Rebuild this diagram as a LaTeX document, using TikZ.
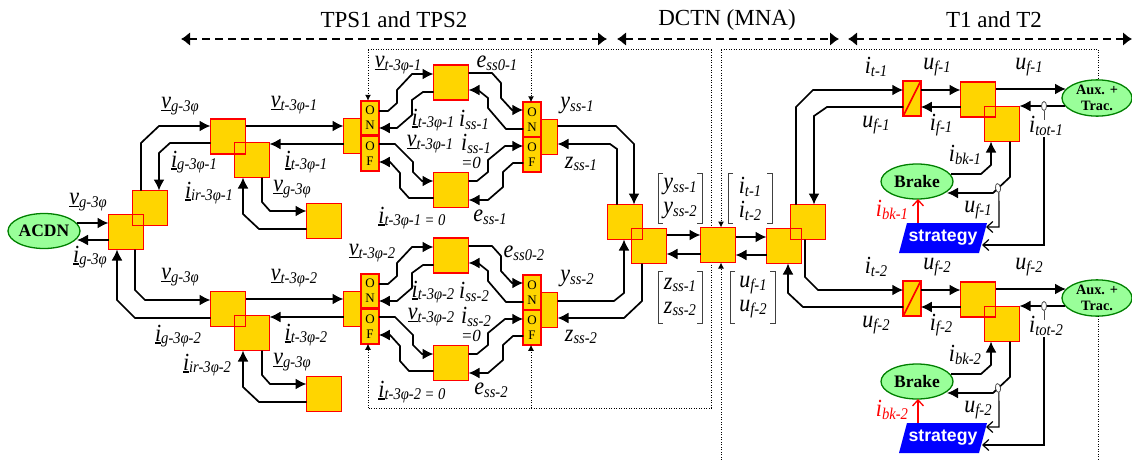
\documentclass[tikz,border=0pt]{standalone}
\usepackage{fontspec}
\setmainfont{Liberation Serif}
\setsansfont{Liberation Sans}
\usetikzlibrary{arrows.meta,shapes.geometric}
\definecolor{boxfill}{HTML}{FFD500}
\definecolor{ellfill}{HTML}{99FF99}
\definecolor{ellline}{HTML}{008000}
\newcommand{\sbs}[1]{\raisebox{-2.5pt}{\fontsize{14.6}{14.6}\selectfont #1}}
\newcommand{\ulet}[1]{\setbox0=\hbox{#1}\rlap{\rule[-2.6pt]{\wd0}{1.5pt}}\box0}
\newcommand{\ulab}[2]{\scalebox{1}[1.12]{\ulet{#1}\sbs{#2}}}
\newcommand{\plab}[2]{\scalebox{1}[1.12]{#1\sbs{#2}}}
\tikzset{
  x=1pt,y=-1pt,
  cell/.style={draw=red,fill=boxfill,line width=1.7pt,minimum size=35pt,inner sep=0pt,outer sep=0pt},
  swit/.style={draw=red,fill=boxfill,line width=1.7pt,minimum width=17.5pt,minimum height=34.5pt,inner sep=0pt,outer sep=0pt,align=center,font=\fontsize{13}{15}\selectfont},
  chopper/.style={draw=red,fill=boxfill,line width=1.7pt,minimum width=17.5pt,minimum height=35pt,inner sep=0pt,outer sep=0pt},
  outl/.style={draw=red,line width=1.7pt},
  ell/.style={ellipse,draw=ellline,fill=ellfill,line width=1.3pt,inner sep=0pt,outer sep=0pt,align=center,font=\bfseries},
  con/.style={line width=1.7pt,-{Latex[length=11pt,width=11pt]}},
  thinl/.style={line width=1pt,black!70},
  barb/.style={line width=1.2pt,-{Straight Barb[length=6pt,width=11pt]}},
  dots/.style={line width=1pt,dash pattern=on 1pt off 1.5pt},
  dota/.style={dots,-{Latex[length=6pt,width=6pt]}},
  head/.style={line width=2.5pt,dash pattern=on 8pt off 5pt,{Latex[length=9pt,width=14pt]}-{Latex[length=9pt,width=14pt]}},
  lab/.style={inner sep=0pt,font=\fontsize{22}{22}\selectfont\itshape},
  brk/.style={line width=.7pt,black!75},
}
\begin{document}
\begin{tikzpicture}
\useasboundingbox (0,0) rectangle (1132,460);
% headings
\node[inner sep=0pt,font=\fontsize{23}{23}\selectfont] (h1) at (394,20) {TPS1 and TPS2};
\node[inner sep=0pt,font=\fontsize{23}{23}\selectfont] (h2) at (727,20) {DCTN (MNA)};
\node[inner sep=0pt,font=\fontsize{23}{23}\selectfont] (h3) at (994,20) {T1 and T2};
\coordinate (a1) at (181,39); \coordinate (a2) at (607,39);
\coordinate (a3) at (617,39); \coordinate (a4) at (839,39);
\coordinate (a5) at (848,39); \coordinate (a6) at (1132,39);
\draw[head] (a1) -- (a2);
\draw[head] (a3) -- (a4);
\draw[head] (a5) -- (a6);
% dotted frame behind the blocks
\coordinate (f1) at (368,50); \coordinate (f2) at (711,50); \coordinate (f3) at (711,408); \coordinate (f4) at (368,408);
\coordinate (f5) at (721,50); \coordinate (f6) at (1098,50); \coordinate (f7) at (721,460); \coordinate (f8) at (1098,460);
\coordinate (f9) at (531,50); \coordinate (f10) at (531,408);
\draw[dots] (f1) -- (f2) -- (f3) -- (f4);
% left blocks
\node[ell,minimum width=72pt,minimum height=35pt,font=\fontsize{17.5}{17.5}\selectfont\bfseries] (acdn) at (44,231) {ACDN};
\node[cell] (acU) at (150,208) {};
\node[cell] (acL) at (126,232) {};
\draw[outl] (acU.south west) rectangle (acU.north east);
\foreach \n/\y in {1/136.5,2/309}{
  \node[cell] (g\n) at (228,\y) {};
}
\node[cell] (r1) at (252,160) {};
\node[cell] (r2) at (252,333) {};
\draw[outl] (g1.south west) rectangle (g1.north east);
\draw[outl] (g2.south west) rectangle (g2.north east);
\node[cell] (q1) at (324,221) {};
\node[cell] (q2) at (324,394) {};
% converter blocks
\foreach \n/\d in {1/0,2/173}{
\begin{scope}[shift={(0,\d)}]
  \node[cell] (c\n) at (361,136) {};
  \node[swit] (on\n) at (370,118) {O\\N};
  \node[swit] (of\n) at (370,153.5) {O\\F};
  \node[cell] (t\n) at (451,82.5) {};
  \node[cell] (b\n) at (451,190) {};
  \node[cell] (d\n) at (540,137) {};
  \node[swit] (ond\n) at (532,119.5) {O\\N};
  \node[swit] (ofd\n) at (532,154.5) {O\\F};
  \draw[con] (on\n.east |- 0,111) -- (388,111) -- (397,103) -- (397,90) -- (412,74) -- (t\n.west |- 0,74);
  \draw[con] (t\n.west |- 0,92) -- (423,92) -- (412,100) -- (412,115) -- (397,128) -- (on\n.east |- 0,128);
  \draw[con] (of\n.east |- 0,144) -- (395,144) -- (413,162) -- (413,172) -- (422,181) -- (b\n.west |- 0,181);
  \draw[con] (b\n.west |- 0,198) -- (409,198) -- (400,188) -- (400,173) -- (390,162) -- (of\n.east |- 0,162);
  \draw[con] (t\n.east |- 0,73) -- (492,73) -- (501,83) -- (501,98) -- (512,110) -- (ond\n.west |- 0,110);
  \draw[con] (ond\n.west |- 0,129) -- (506,129) -- (488,108) -- (488,98) -- (478,90) -- (t\n.east |- 0,90);
  \draw[con] (b\n.east |- 0,181) -- (477,181) -- (488,172) -- (488,160) -- (505,146) -- (ofd\n.west |- 0,146);
  \draw[con] (ofd\n.west |- 0,163) -- (513,163) -- (503,172) -- (503,187) -- (488,200) -- (b\n.east |- 0,200);
\end{scope}
}
% DC network
\node[cell] (mu) at (625,222) {};
\node[cell] (ml) at (649,246) {};
\draw[outl] (mu.south west) rectangle (mu.north east);
\node[cell] (dc) at (718,245) {};
\node[cell] (nl) at (784,246) {};
\node[cell] (nu) at (808,222) {};
\draw[outl] (nl.south west) rectangle (nl.north east);
% dotted arrows
\draw[dota] (f1) -- (on1.north -| f1);
\draw[dota] (f9) -- (ond1.north -| f9);
\draw[dota] (f4) -- (of2.south -| f4);
\draw[dota] (f10) -- (ofd2.south -| f10);
\draw[dota] (f5) -- (dc.north -| f5);
\draw[dota] (f7) -- (dc.south -| f7);
\draw[dots] (f5) -- (f6);
% left connectors
\draw[con] (acdn.east |- 0,223) ++(-3,0) -- (acL.west |- 0,223);
\draw[con] (acL.west |- 0,240) -- (77,240);
\draw[con] (acU.north -| 141,0) -- (141,143) -- (159,126) -- (g1.west |- 0,126);
\draw[con] (g1.west |- 0,143) -- (170,143) -- (159,153) -- (acU.north -| 159,0);
\draw[con] (acL.south -| 135,0) -- (135,290) -- (145,300) -- (g2.west |- 0,300);
\draw[con] (g2.west |- 0,318) -- (135,318) -- (117,300) -- (acL.south -| 117,0);
\foreach \n/\d in {1/0,2/173}{
\begin{scope}[shift={(0,\d)}]
  \draw[con] (g\n.east |- 0,126) -- (c\n.west |- 0,126);
  \draw[con] (c\n.west |- 0,144) -- (r\n.east |- 0,144);
  \draw[con] (r\n.south -| 262,0) -- (262,202) -- (270,211) -- (q\n.west |- 0,211);
  \draw[con] (q\n.west |- 0,229) -- (259,229) -- (243,214) -- (r\n.south -| 243,0);
\end{scope}
}
% merge connectors
\draw[con] (d1.east |- 0,126) -- (616,126) -- (634,144) -- (mu.north -| 634,0);
\draw[con] (mu.north -| 617,0) -- (617,149) -- (610,144) -- (d1.east |- 0,144);
\draw[con] (d2.east |- 0,301) -- (614,301) -- (624,293) -- (mu.south -| 624,0);
\draw[con] (ml.south -| 642,0) -- (642,301) -- (624,318) -- (d2.east |- 0,318);
\draw[con] (ml.east |- 0,235) -- (dc.west |- 0,235);
\draw[con] (dc.west |- 0,254) -- (ml.east |- 0,254);
\draw[con] (dc.east |- 0,237) -- (nl.west |- 0,237);
\draw[con] (nl.west |- 0,255) -- (dc.east |- 0,255);
% traction units
\foreach \n/\d/\yy in {1/0/1,2/200/2}{
\begin{scope}[shift={(0,\d)}]
  \node[chopper] (chop\n) at (912,98.5) {};
  \draw[outl] (chop\n.south west) -- (chop\n.north east);
  \node[cell] (fa\n) at (978,99.5) {};
  \node[cell] (fb\n) at (1002,124) {};
  \draw[outl] (fa\n.south west) rectangle (fa\n.north east);
  \node[ell,minimum width=70pt,minimum height=35pt,font=\fontsize{14.3}{16}\selectfont\bfseries] (aux\n) at (1097,98) {Aux. +\\Trac.};
  \node[ell,minimum width=72pt,minimum height=35pt,font=\fontsize{17.5}{17.5}\selectfont\bfseries] (brake\n) at (917,181.5) {Brake};
  \coordinate (s1\n) at (907,223); \coordinate (s2\n) at (987,223); \coordinate (s3\n) at (979,253); \coordinate (s4\n) at (899,253);
  \fill[blue] (s1\n) -- (s2\n) -- (s3\n) -- (s4\n) -- cycle;
  \node[inner sep=0pt,text=white,font=\fontsize{17.7}{17.7}\selectfont\sffamily\bfseries] (strat\n) at (943,238) {strategy};
  \coordinate (sa\n) at (986,227); \coordinate (sb\n) at (982,245);
  \draw[con] (chop\n.east |- 0,90) -- (fa\n.west |- 0,90);
  \draw[con] (fa\n.west |- 0,107) -- (chop\n.east |- 0,107);
  \draw[con] (fa\n.east |- 0,89) -- (1066,89);
  \draw[con] (1065,106) -- (fb\n.east |- 0,106);
  \node[draw=black!70,fill=white,ellipse,line width=.8pt,minimum width=5pt,minimum height=9pt,inner sep=0pt] (so\n) at (1044,106) {};
  \draw[thinl] (so\n.south) -- (1044,120);
  \draw[barb] (1044,137) -- (1044,245) -- (sb\n);
  \draw[con] (brake\n.east |- 0,174) ++(-2,0) -- (981,174) -- (991,165) -- (fb\n.south -| 991,0);
  \draw[con] (fb\n.south -| 1010,0) -- (1010,177) -- (993,193) -- (947,193);
  \node[draw=black!70,fill=white,ellipse,rotate=10,line width=.8pt,minimum width=5pt,minimum height=9pt,inner sep=0pt] (st\n) at (998,188) {};
  \draw[barb] (st\n.south) -- (999,227) -- (sa\n);
  \draw[red,line width=1.3pt,-{Straight Barb[length=6pt,width=11pt]}] (918,223) -- (brake\n.south -| 918,0);
  \node[lab] (it\n) at (876,67) {\plab{i}{t-\n}};
  \node[lab] (uf\n) at (937,67) {\plab{u}{f-\n}};
  \node[lab] (uh\n) at (1029,67) {\plab{u}{f-\n}};
  \node[lab] (ul\n) at (876,125) {\plab{u}{f-\n}};
  \node[lab] (if\n) at (941,125) {\plab{i}{f-\n}};
  \node[lab] (tot\n) at (1046,126) {\plab{i}{tot-\n}};
  \node[lab] (bk\n) at (965,155) {\plab{i}{bk-\n}};
  \node[lab,text=red] (bkr\n) at (892,210) {\plab{i}{bk-\n}};
  \node[lab] (ub\n) at (978,210) {\plab{u}{f-\n}};
\end{scope}
}
\draw[dots] (f6) -- (aux1.north -| f6);
\draw[dots] (aux2.south -| f8) -- (f8);
\draw[con] (nu.north -| 796,0) -- (796,107) -- (813,90) -- (chop1.west |- 0,90);
\draw[con] (chop1.west |- 0,107) -- (827,107) -- (814,116) -- (nu.north -| 814,0);
\draw[con] (nu.south -| 805,0) -- (805,277) -- (818,290) -- (chop2.west |- 0,290);
\draw[con] (chop2.west |- 0,307) -- (803,307) -- (788,293) -- (nl.south -| 788,0);
% brackets
\foreach \xa/\xb/\ya/\yb in {658/702/173/223,728/772/173/223,658/702/271/323,730/775/271/323}{
  \draw[brk] (\xa+5,\ya) -- (\xa,\ya) -- (\xa,\yb) -- (\xa+5,\yb);
  \draw[brk] (\xb-5,\ya) -- (\xb,\ya) -- (\xb,\yb) -- (\xb-5,\yb);
}
\node[lab] (my1) at (680,187) {\plab{y}{ss-1}};
\node[lab] (my2) at (680,211) {\plab{y}{ss-2}};
\node[lab] (mi1) at (750,187) {\plab{i}{t-1}};
\node[lab] (mi2) at (750,211) {\plab{i}{t-2}};
\node[lab] (mz1) at (680,285) {\plab{z}{ss-1}};
\node[lab] (mz2) at (680,309) {\plab{z}{ss-2}};
\node[lab] (mu1) at (753,285) {\plab{u}{f-1}};
\node[lab] (mu2) at (753,309) {\plab{u}{f-2}};
% left labels
\node[lab] (l1) at (88,202) {\ulab{v}{g-3φ}};
\node[lab] (l2) at (90,257) {\ulab{i}{g-3φ}};
\node[lab] (l3) at (180,106) {\ulab{v}{g-3φ}};
\node[lab] (l4) at (294,105) {\ulab{v}{t-3φ-1}};
\node[lab] (l5) at (194,162) {\ulab{i}{g-3φ-1}};
\node[lab] (l6) at (306,162) {\ulab{i}{t-3φ-1}};
\node[lab] (l7) at (209,193) {\ulab{i}{ir-3φ-1}};
\node[lab] (l8) at (292,189) {\ulab{v}{g-3φ}};
\node[lab] (l9) at (180,277) {\ulab{v}{g-3φ}};
\node[lab] (l10) at (294,278) {\ulab{v}{t-3φ-2}};
\node[lab] (l11) at (178,336) {\ulab{i}{g-3φ-2}};
\node[lab] (l12) at (306,335) {\ulab{i}{t-3φ-2}};
\node[lab] (l13) at (207,365) {\ulab{i}{ir-3φ-2}};
\node[lab] (l14) at (292,362) {\ulab{v}{g-3φ}};
% converter labels
\node[lab] (p1) at (398,65) {\ulab{v}{t-3φ-1}};
\node[lab] (p2) at (497,63) {\plab{e}{ss0-1}};
\node[lab] (p3) at (433,120) {\ulab{i}{t-3φ-1}};
\node[lab] (p4) at (474,120) {\plab{i}{ss-1}};
\node[lab] (p5) at (430,144) {\ulab{v}{t-3φ-1}};
\node[lab] (p6) at (476,144) {\plab{i}{ss-1}};
\node[lab,font=\fontsize{17}{17}\selectfont\itshape] (p7) at (471,163) {=0};
\node[lab] (p8) at (412,218) {\ulab{i}{t-3φ-1 = 0}};
\node[lab] (p9) at (490,217) {\plab{e}{ss-1}};
\node[lab] (p10) at (577,106) {\plab{y}{ss-1}};
\node[lab] (p11) at (581,164) {\plab{z}{ss-1}};
\node[lab] (k1) at (372,253) {\ulab{v}{t-3φ-2}};
\node[lab] (k2) at (524,253) {\plab{e}{ss0-2}};
\node[lab] (k3) at (433,292) {\ulab{i}{t-3φ-2}};
\node[lab] (k4) at (474,292) {\plab{i}{ss-2}};
\node[lab] (k5) at (431,317) {\ulab{v}{t-3φ-2}};
\node[lab] (k6) at (476,317) {\plab{i}{ss-2}};
\node[lab,font=\fontsize{17}{17}\selectfont\itshape] (k7) at (471,336) {=0};
\node[lab] (k8) at (412,392) {\ulab{i}{t-3φ-2 = 0}};
\node[lab] (k9) at (491,390) {\plab{e}{ss-2}};
\node[lab] (k10) at (577,279) {\plab{y}{ss-2}};
\node[lab] (k11) at (581,337) {\plab{z}{ss-2}};
\end{tikzpicture}
\end{document}
